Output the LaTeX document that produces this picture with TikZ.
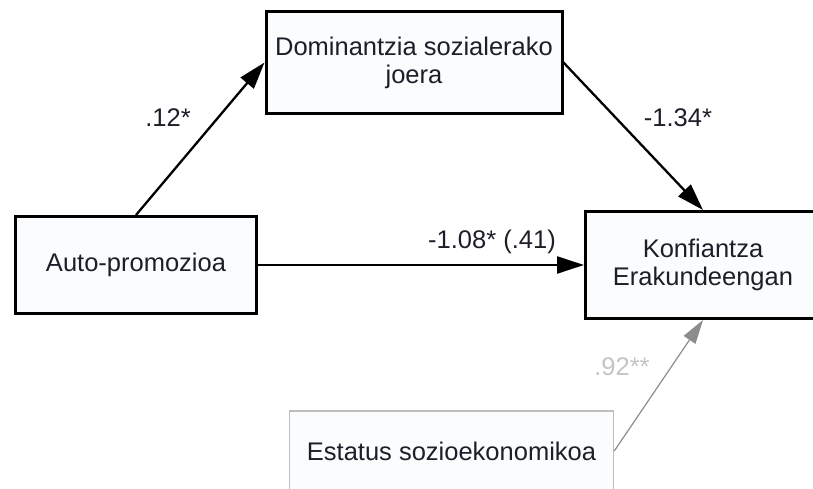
\documentclass[tikz,border=0pt]{standalone}
\usepackage{fontspec}
\setmainfont{Liberation Sans}
\usepackage{tikz}
\usetikzlibrary{calc, positioning}
\usetikzlibrary{arrows.meta}
\usepackage{xcolor}
\definecolor{myfill}{HTML}{FAFCFE}
\definecolor{mytext}{HTML}{1E1E28}
\definecolor{mygray}{HTML}{8C8C8C}
\definecolor{myboxgray}{HTML}{BDBDBD}
\definecolor{mylightgray}{HTML}{C4C4C4}
\tikzset{>={Triangle[length=27pt,width=17pt]}}
\tikzset{
	varbox/.style={draw, line width=3pt, fill=myfill, text=mytext, align=center, inner sep=0pt},
	ctrlbox/.style={draw=myboxgray, line width=1.5pt, fill=myfill, text=mytext, align=center, inner sep=0pt},
	coef/.style={text=mytext, inner sep=0pt}
}

\begin{document}
\begin{tikzpicture}[x=1pt, y=-1pt, font=\fontsize{25.5}{28}\selectfont]
				\useasboundingbox (0,0) rectangle (813,489);
				\node[varbox, minimum width=296pt, minimum height=102pt] (dom) at (414,62.5) {Dominantzia sozialerako\\joera};
				\node[varbox, minimum width=241pt, minimum height=97pt] (auto) at (136,265) {Auto-promozioa};
				\node[varbox, minimum width=235pt, minimum height=107pt] (konf) at (703,265) {Konfiantza\\Erakundeengan};
				\node[ctrlbox, minimum width=324pt, minimum height=80pt] (ses) at (451.5,451) {Estatus sozioekonomikoa};
				\draw [line width=2.3pt, ->] (auto.north) -- (dom.west);
				\draw [line width=2.3pt, ->] (dom.east) -- (konf.north);
				\draw [line width=2.3pt, ->] (auto.east) -- (konf.west);
				\draw [line width=1.2pt, mygray, -{Triangle[length=24pt,width=14pt]}] (ses.east) -- (konf.south);
				\node[coef] (c12) at (168,118) {.12*};
				\node[coef] (c134) at (678,118) {-1.34*};
				\node[coef] (c108) at (492,242) {-1.08* (.41)};
				\node[coef, text=mylightgray] (c92) at (622,367) {.92**};
			\end{tikzpicture}
\end{document}
